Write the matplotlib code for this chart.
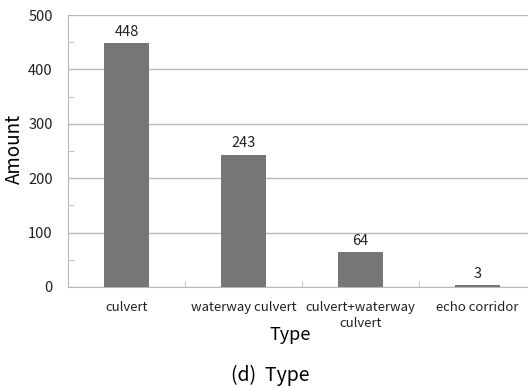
import matplotlib.pyplot as plt
from matplotlib.ticker import MultipleLocator

plt.rcParams['font.family'] = ['Noto Sans CJK KR', 'DejaVu Sans']

types = ['culvert', 'waterway culvert', 'culvert+waterway\nculvert', 'echo corridor']
amounts = [448, 243, 64, 3]

fig = plt.figure(figsize=(5.28, 3.88), dpi=100)
ax = fig.add_axes([68 / 528, 1 - 287 / 388, 468 / 528, 272 / 388])

x = range(len(types))
ax.bar(x, amounts, width=0.39, color='#767676', zorder=3)
for i, v in enumerate(amounts):
    ax.text(i, v + 8, str(v), ha='center', va='bottom', fontsize=10.5, color='#222222')

ax.set_xlim(-0.5, len(types) - 0.5)
ax.set_ylim(0, 500)
ax.yaxis.set_major_locator(MultipleLocator(100))
ax.yaxis.set_minor_locator(MultipleLocator(50))
ax.grid(axis='y', which='major', color='#b8b8b8', linewidth=1, zorder=0)

ax.set_xticks(list(x))
ax.set_xticklabels(types, fontsize=9.5, color='#222222', linespacing=1.35)
ax.set_xticks([0.5, 1.5, 2.5], minor=True)
ax.tick_params(axis='x', which='major', length=0, pad=10)
ax.tick_params(axis='x', which='minor', direction='in', length=4, color='#b8b8b8')
ax.tick_params(axis='y', which='major', length=0, pad=11, labelsize=10.5, labelcolor='#222222')
ax.tick_params(axis='y', which='minor', direction='in', length=4, color='#b8b8b8')

for side in ['top', 'right']:
    ax.spines[side].set_visible(False)
for side in ['left', 'bottom']:
    ax.spines[side].set_color('#b8b8b8')

fig.text(14 / 528, 1 - 149 / 388, 'Amount', ha='center', va='center', rotation=90, fontsize=13.5)
fig.text(290 / 528, 1 - 335 / 388, 'Type', ha='center', va='center', fontsize=13)
fig.text(270 / 528, 1 - 375 / 388, '(d)  Type', ha='center', va='center', fontsize=14)

fig.savefig('out.png', dpi=100)
